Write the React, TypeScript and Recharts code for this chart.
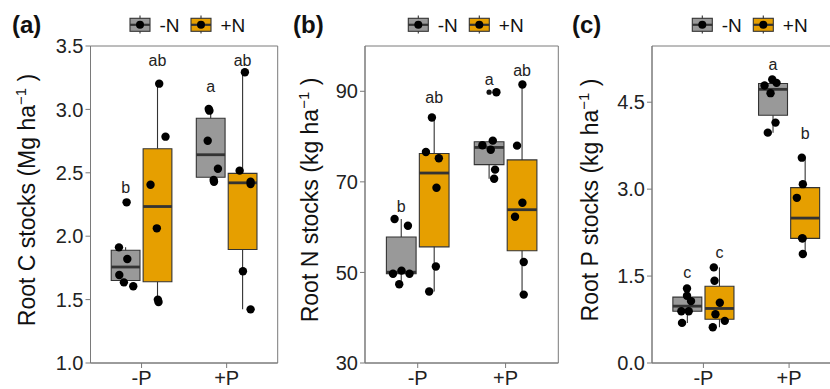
import React from "react";
import { ComposedChart, XAxis, YAxis, Scatter, ReferenceArea, ReferenceLine } from "recharts";

const phosphorus = ["-P", "+P"];
const nitrogen = ["-N", "+N"];
const nitrogenFill = ["#999999", "#E69F00"];

// Root C stocks (Mg ha-1), one array per P x N group, with x jitter (category units)
const rootC_lowP_noN = [2.267, 1.912, 1.82, 1.694, 1.636, 1.605];
const jitC_lowP_noN = [0.012, -0.078, 0.02, -0.074, -0.02, 0.09];
const rootC_lowP_addN = [3.203, 2.785, 2.406, 2.062, 1.5, 1.481];
const jitC_lowP_addN = [0.02, 0.094, -0.082, -0.008, 0.004, 0.012];
const rootC_highP_noN = [3.003, 2.99, 2.753, 2.532, 2.443, 2.43];
const jitC_highP_noN = [-0.023, -0.015, -0.035, 0.085, 0.035, 0.039];
const rootC_highP_addN = [3.293, 2.517, 2.43, 2.412, 1.723, 1.423];
const jitC_highP_addN = [0.027, -0.035, 0.094, 0.094, 0.004, 0.094];
const lettersC = ["b", "ab", "a", "ab"];
const letterYC = [2.39, 3.384, 3.18, 3.384];

// Root N stocks (kg ha-1)
const rootN_lowP_noN = [61.8, 60.3, 49.7, 50.4, 49.7, 47.4];
const jitN_lowP_noN = [-0.076, 0.076, -0.094, 0.003, 0.094, -0.023];
const rootN_lowP_addN = [84.2, 76.6, 75.2, 68.7, 51.3, 45.8];
const jitN_lowP_addN = [-0.026, -0.094, 0.053, 0.026, 0.019, -0.057];
const rootN_highP_noN = [78.1, 79.1, 77.1, 72.7, 70.7, 89.8];
const jitN_highP_noN = [-0.076, 0.042, 0.019, 0.068, 0.057, 0.083];
const rootN_highP_addN = [91.5, 78.0, 65.4, 62.3, 52.3, 45.1];
const jitN_highP_addN = [0.004, -0.057, 0.004, -0.08, 0.019, 0.019];
const lettersN = ["b", "ab", "a", "ab"];
const letterYN = [64.6, 88.6, 92.65, 94.7];

// Root P stocks (kg ha-1)
const rootP_lowP_noN = [1.286, 1.16, 1.068, 0.894, 0.894, 0.692];
const jitP_lowP_noN = [-0.004, -0.004, 0.043, -0.07, 0.016, -0.062];
const rootP_lowP_addN = [1.65, 1.42, 1.04, 0.842, 0.727, 0.617];
const jitP_lowP_addN = [-0.066, -0.058, 0.004, -0.047, 0.062, -0.078];
const rootP_highP_noN = [4.789, 4.893, 4.834, 4.656, 4.148, 3.975];
const jitP_highP_noN = [-0.099, -0.009, 0.041, -0.029, 0.029, -0.061];
const rootP_highP_addN = [3.543, 3.086, 2.85, 2.151, 2.15, 1.881];
const jitP_highP_addN = [-0.039, -0.027, -0.097, -0.035, -0.03, -0.027];
const lettersP = ["c", "c", "a", "b"];
const letterYP = [1.558, 1.916, 5.163, 3.963];

const ticksC = [1, 1.5, 2, 2.5, 3, 3.5];
const ticksN = [30, 50, 70, 90];
const ticksP = [0, 1.5, 3, 4.5];

const FONT = "'Liberation Sans', Arial, sans-serif";
const DODGE = 0.1875;
const HALF_BOX = 0.169;
const LINE = "#333333";
const FRAME = "#7a7a7a";

function quantile(s: number[], p: number) {
  const h = (s.length - 1) * p;
  const lo = Math.floor(h);
  const next = lo + 1 < s.length ? s[lo + 1] : s[lo];
  return s[lo] + (h - lo) * (next - s[lo]);
}

function boxStats(values: number[]) {
  const s = [...values].sort((a, b) => a - b);
  const q1 = quantile(s, 0.25);
  const med = quantile(s, 0.5);
  const q3 = quantile(s, 0.75);
  const iqr = q3 - q1;
  const inside = s.filter((v) => v >= q1 - 1.5 * iqr && v <= q3 + 1.5 * iqr);
  const out = s.filter((v) => v < q1 - 1.5 * iqr || v > q3 + 1.5 * iqr);
  return { q1, med, q3, lo: inside[0], hi: inside[inside.length - 1], out };
}

type Group = { p: number; n: number; values: number[]; jitter: number[] };

function groupsOf(vals: number[][], jits: number[][]): Group[] {
  return vals.map((values, i) => ({ p: Math.floor(i / 2), n: i % 2, values, jitter: jits[i] }));
}

const centerX = (g: { p: number; n: number }) => g.p + 1 + (g.n === 0 ? -DODGE : DODGE);

type PanelProps = {
  left: number;
  width: number;
  plotLeft: number;
  plotRight: number;
  tag: string;
  tagX: number;
  titleX: number;
  legendX: number;
  title: string;
  groups: Group[];
  letters: string[];
  letterY: number[];
  domain: [number, number];
  ticks: number[];
  digits: number;
};

function Panel(props: PanelProps) {
  const { left, width, plotLeft, plotRight, groups, domain, ticks } = props;
  const height = 389;
  const points = groups.flatMap((g) => g.values.map((v, j) => ({ x: centerX(g) + g.jitter[j], y: v })));
  const stats = groups.map((g) => ({ g, s: boxStats(g.values) }));
  const outliers = stats.flatMap(({ g, s }) => s.out.map((v) => ({ x: centerX(g), y: v })));
  const letterPts = groups.map((g, i) => ({ x: centerX(g), y: props.letterY[i], label: props.letters[i] }));

  return (
    <div style={{ position: "absolute", left, top: 0, width, height }}>
      <ComposedChart width={width} height={height} margin={{ top: 46, right: width - plotRight, bottom: 0, left: 0 }}>
        <XAxis
          type="number"
          dataKey="x"
          domain={[0.4, 2.6]}
          ticks={[1, 2]}
          allowDataOverflow
          tickFormatter={(v) => phosphorus[v - 1]}
          height={26}
          tickSize={5}
          tickMargin={3}
          axisLine={{ stroke: FRAME }}
          tickLine={{ stroke: FRAME }}
          tick={{ fill: "#222", fontSize: 20, fontFamily: FONT }}
        />
        <YAxis
          type="number"
          dataKey="y"
          domain={domain}
          ticks={ticks}
          allowDataOverflow
          tickFormatter={(v) => (props.digits ? v.toFixed(props.digits) : String(v))}
          width={plotLeft}
          tickSize={5}
          tickMargin={2}
          axisLine={{ stroke: FRAME }}
          tickLine={{ stroke: FRAME }}
          tick={{ fill: "#222", fontSize: 20, fontFamily: FONT }}
        />
        <ReferenceArea x1={0.4} x2={2.6} y1={domain[0]} y2={domain[1]} fill="none" stroke={FRAME} strokeWidth={1} />
        {stats.map(({ g, s }, i) => (
          <ReferenceLine
            key={"wu" + i}
            segment={[{ x: centerX(g), y: s.q3 }, { x: centerX(g), y: s.hi }]}
            stroke={LINE}
            strokeWidth={1.1}
          />
        ))}
        {stats.map(({ g, s }, i) => (
          <ReferenceLine
            key={"wl" + i}
            segment={[{ x: centerX(g), y: s.lo }, { x: centerX(g), y: s.q1 }]}
            stroke={LINE}
            strokeWidth={1.1}
          />
        ))}
        {stats.map(({ g, s }, i) => (
          <ReferenceArea
            key={"box" + i}
            x1={centerX(g) - HALF_BOX}
            x2={centerX(g) + HALF_BOX}
            y1={s.q1}
            y2={s.q3}
            fill={nitrogenFill[g.n]}
            fillOpacity={1}
            stroke={LINE}
            strokeWidth={1.1}
          />
        ))}
        {stats.map(({ g, s }, i) => (
          <ReferenceLine
            key={"med" + i}
            segment={[{ x: centerX(g) - HALF_BOX, y: s.med }, { x: centerX(g) + HALF_BOX, y: s.med }]}
            stroke={LINE}
            strokeWidth={2.8}
          />
        ))}
        <Scatter
          data={outliers}
          isAnimationActive={false}
          shape={(p: any) => <circle cx={p.cx} cy={p.cy} r={2.6} fill="#111" />}
        />
        <Scatter
          data={points}
          isAnimationActive={false}
          shape={(p: any) => <circle cx={p.cx} cy={p.cy} r={4.2} fill="#000" />}
        />
        <Scatter
          data={letterPts}
          isAnimationActive={false}
          shape={(p: any) => (
            <text x={p.cx} y={p.cy} dy="0.36em" textAnchor="middle" fontSize={16} fill="#222" fontFamily={FONT}>
              {p.payload.label}
            </text>
          )}
        />
      </ComposedChart>
      <svg
        width={width}
        height={height}
        style={{ position: "absolute", left: 0, top: 0, pointerEvents: "none" }}
        fontFamily={FONT}
      >
        <text x={props.tagX} y={33} fontSize={24} fontWeight="bold" fill="#111">
          {props.tag}
        </text>
        <text
          transform={`translate(${props.titleX},200) rotate(-90)`}
          textAnchor="middle"
          fontSize={23}
          fill="#111"
        >
          {props.title}
          <tspan dy={-9} fontSize={15}>
            −1
          </tspan>
          <tspan dy={9}> )</tspan>
        </text>
        {nitrogen.map((lab, i) => {
          const x = props.legendX + i * 61;
          return (
            <g key={lab}>
              <line x1={x + 10} x2={x + 10} y1={15.5} y2={33.5} stroke={LINE} strokeWidth={1.1} />
              <rect x={x} y={18.3} width={20} height={13} fill={nitrogenFill[i]} stroke={LINE} strokeWidth={1.1} />
              <line x1={x} x2={x + 20} y1={24.8} y2={24.8} stroke={LINE} strokeWidth={2.2} />
              <circle cx={x + 10} cy={24.8} r={4} fill="#000" />
              <text x={x + 29.5} y={32} fontSize={19} fill="#111">
                {lab}
              </text>
            </g>
          );
        })}
      </svg>
    </div>
  );
}

const groupsC = groupsOf(
  [rootC_lowP_noN, rootC_lowP_addN, rootC_highP_noN, rootC_highP_addN],
  [jitC_lowP_noN, jitC_lowP_addN, jitC_highP_noN, jitC_highP_addN]
);
const groupsN = groupsOf(
  [rootN_lowP_noN, rootN_lowP_addN, rootN_highP_noN, rootN_highP_addN],
  [jitN_lowP_noN, jitN_lowP_addN, jitN_highP_noN, jitN_highP_addN]
);
const groupsP = groupsOf(
  [rootP_lowP_noN, rootP_lowP_addN, rootP_highP_noN, rootP_highP_addN],
  [jitP_lowP_noN, jitP_lowP_addN, jitP_highP_noN, jitP_highP_addN]
);

export default function App() {
  return (
    <div
      style={{
        position: "absolute",
        left: 0,
        top: 0,
        width: 830,
        height: 389,
        overflow: "hidden",
        background: "#fff",
        fontFamily: FONT,
      }}
    >
      <Panel
        left={0}
        width={280}
        plotLeft={90.5}
        plotRight={277.7}
        tag="(a)"
        tagX={12}
        titleX={35}
        legendX={130}
        title="Root C stocks (Mg  ha"
        groups={groupsC}
        letters={lettersC}
        letterY={letterYC}
        domain={[1, 3.5]}
        ticks={ticksC}
        digits={1}
      />
      <Panel
        left={280}
        width={280}
        plotLeft={85}
        plotRight={278.3}
        tag="(b)"
        tagX={13}
        titleX={38.3}
        legendX={128.3}
        title="Root N stocks (kg  ha"
        groups={groupsN}
        letters={lettersN}
        letterY={letterYN}
        domain={[30, 100]}
        ticks={ticksN}
        digits={0}
      />
      <Panel
        left={555}
        width={290}
        plotLeft={97}
        plotRight={285.5}
        tag="(c)"
        tagX={17}
        titleX={43.3}
        legendX={137.3}
        title="Root P stocks (kg  ha"
        groups={groupsP}
        letters={lettersP}
        letterY={letterYP}
        domain={[0, 5.47]}
        ticks={ticksP}
        digits={1}
      />
    </div>
  );
}
